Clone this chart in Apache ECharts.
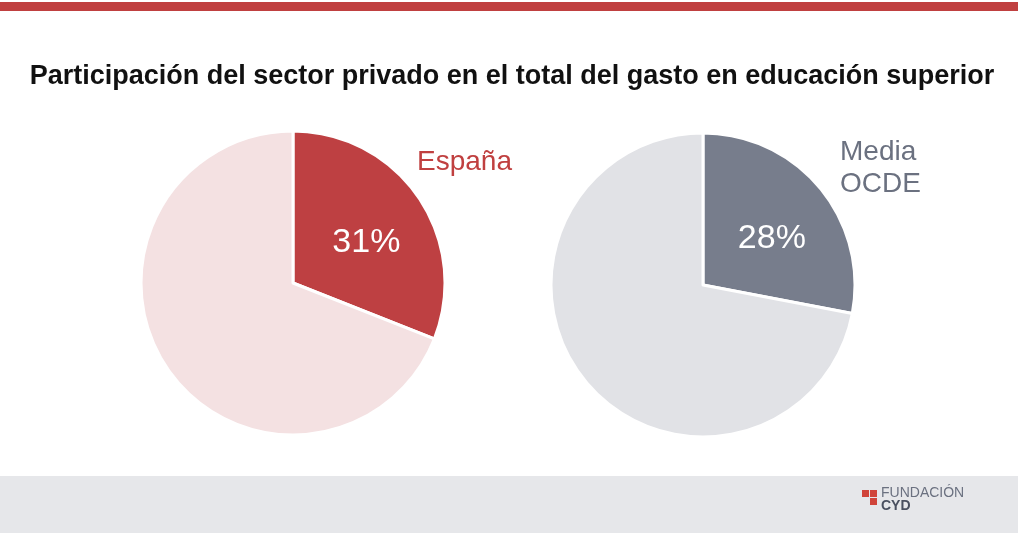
<!DOCTYPE html>
<html>
<head>
<meta charset="utf-8">
<script src="https://cdn.jsdelivr.net/npm/echarts@6/dist/echarts.min.js"></script>
<style>html,body{margin:0;padding:0;background:#fff}#chart{width:1024px;height:539px}</style>
</head>
<body>
<div id="chart"></div>
<script>
let chartData = {
    espana: [31, 69],
    ocde: [28, 72]
};
let myChart = echarts.init(document.getElementById('chart'));
let font = '"Liberation Sans", Arial, sans-serif';
function pieSeries(center, values, mainColor, restColor) {
    return {
        type: 'pie',
        center: center,
        radius: [0, 152],
        startAngle: 90,
        clockwise: true,
        silent: true,
        itemStyle: { borderColor: '#fff', borderWidth: 3 },
        labelLine: { show: false },
        data: [
            { value: values[0], itemStyle: { color: mainColor },
              label: { show: true, position: 'inside', formatter: '{c}%', color: '#fff', fontSize: 34, fontFamily: font, offset: [8, 4] } },
            { value: values[1], itemStyle: { color: restColor }, label: { show: false } }
        ]
    };
}
let chartOption = {
    animation: false,
    title: {
        text: 'Participación del sector privado en el total del gasto en educación superior',
        left: 'center',
        top: 58,
        textStyle: { fontSize: 27, fontWeight: 'bold', color: '#111', fontFamily: font }
    },
    graphic: [
        { type: 'rect', shape: { x: 0, y: 2, width: 1018, height: 9 }, style: { fill: '#c04040' } },
        { type: 'rect', shape: { x: 0, y: 476, width: 1018, height: 57 }, style: { fill: '#e6e7ea' } },
        { type: 'text', left: 417, top: 148, style: { text: 'España', fill: '#c04040', fontSize: 28, fontFamily: font } },
        { type: 'text', left: 840, top: 136, style: { text: 'Media\nOCDE', fill: '#6b7180', fontSize: 28, lineHeight: 32, fontFamily: font } },
        { type: 'rect', shape: { x: 862, y: 490, width: 7, height: 7 }, style: { fill: '#d0443a' } },
        { type: 'rect', shape: { x: 870, y: 490, width: 7, height: 7 }, style: { fill: '#d0443a' } },
        { type: 'rect', shape: { x: 870, y: 498, width: 7, height: 7 }, style: { fill: '#d0443a' } },
        { type: 'text', left: 881, top: 486, style: { text: 'FUNDACIÓN', fill: '#6b7180', fontSize: 14, fontFamily: font } },
        { type: 'text', left: 881, top: 499, style: { text: 'CYD', fill: '#4a5060', fontSize: 14, fontWeight: 'bold', fontFamily: font } }
    ],
    series: [
        pieSeries([293, 283], chartData.espana, '#be4042', '#f4e1e2'),
        pieSeries([703, 285], chartData.ocde, '#777d8c', '#e1e2e6')
    ]
};
myChart.setOption(chartOption);
</script>
</body>
</html>
